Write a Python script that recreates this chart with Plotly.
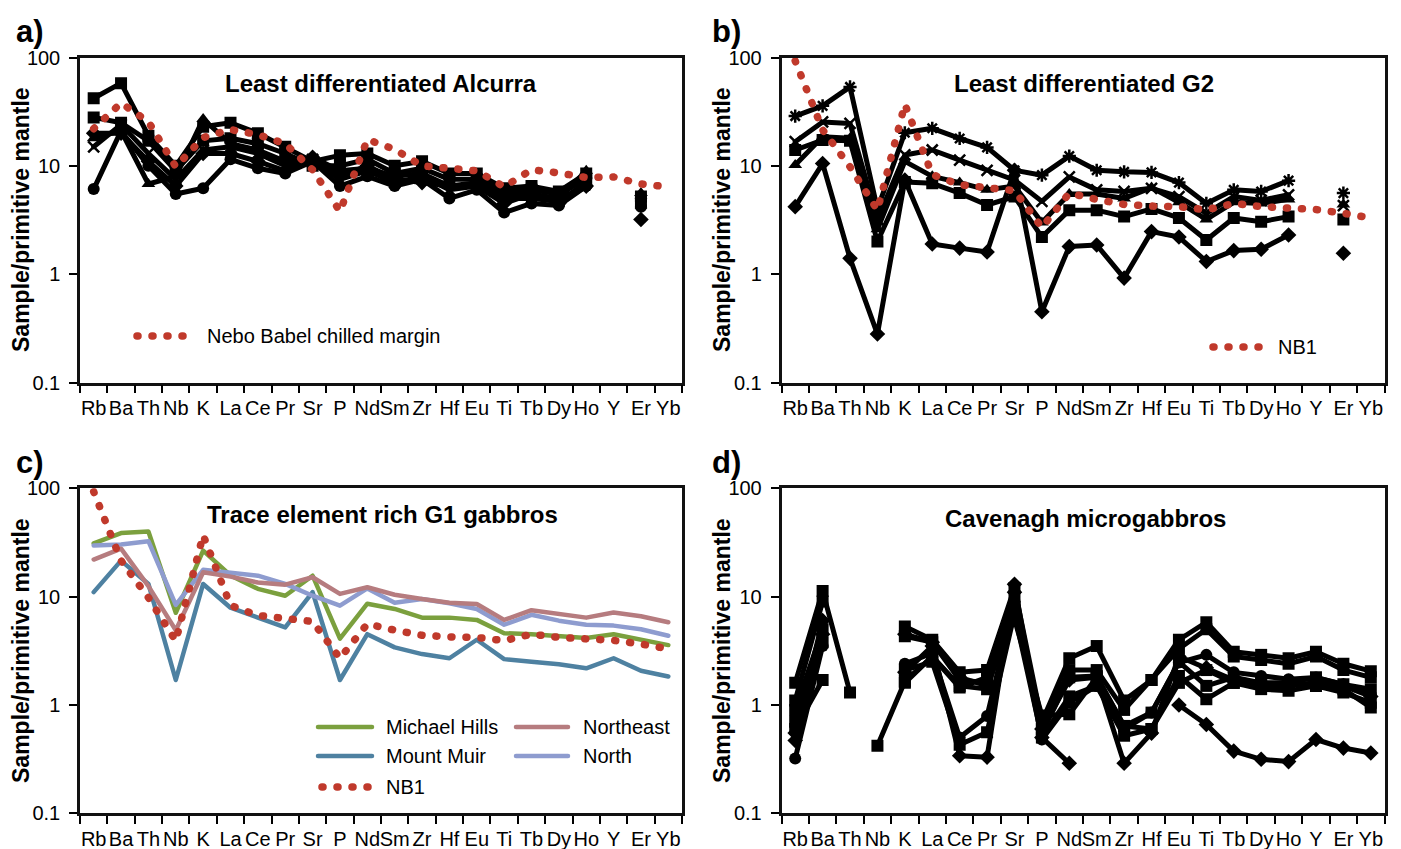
import plotly.graph_objects as go

# ---------------------------------------------------------------------------
# Primitive-mantle normalised trace element data
# ---------------------------------------------------------------------------
ELEMENTS = ["Rb", "Ba", "Th", "Nb", "K", "La", "Ce", "Pr", "Sr", "P", "Nd",
            "Sm", "Zr", "Hf", "Eu", "Ti", "Tb", "Dy", "Ho", "Y", "Er", "Yb"]
N = None

# reference compositions
NEBO_BABEL_CHILLED = [22, 38, 25.5, 9.8, 18.2, 21.6, 19.4, 16, 9.2, 3.8, 17.5,
                      14.2, 10.0, 9.3, 9.0, 6.4, 9.2, 8.6, 7.8, 7.9, 6.8, 6.4]
NB1 = [93, 21.5, 9.8, 3.9, 37, 8.3, 6.7, 6.3, 5.9, 2.7, 5.6,
       4.9, 4.4, 4.25, 4.2, 3.92, 4.5, 4.2, 4.06, 3.95, 3.65, 3.3]

# a) least differentiated Alcurra samples
ALC_SQUARE_1 = [42, 58, 19, 10, 23, 25, 20, 15, 11, 12.5, 13, 10, 11, 8.5, 8.5, 6.2, 6.5, 5.8, 8.5, N, 5.2, N]
ALC_SQUARE_2 = [28, 25, 17, 9, 17, 18, 16, 13, 10, 10, 11.5, 8.5, 9.5, 7.5, 7.5, 6.0, 6.0, 5.5, 7.5, N, 4.7, N]
ALC_TRIANGLE = [18, 21, 6.8, 8, 27, 16, 14, 11, 12, 9, 9.5, 8, 8.5, 6.5, 7, 5.5, 5.5, 5.0, 9.0, N, 5.6, N]
ALC_CROSS = [15, 24, 13, 7.5, 14, 15, 13, 10, 11.5, 7.5, 9, 7, 8, 6, 6.5, 5.0, 5.0, 4.7, 7.0, N, 4.5, N]
ALC_CIRCLE = [6.1, 21, 10, 5.5, 6.2, 11.5, 9.5, 8.5, 11, 6.5, 8, 6.5, 7.5, 5.0, 6.0, 3.7, 4.5, 4.3, 6.5, N, 4.2, N]
ALC_DIAMOND = [20, 20, 11, 6.5, 13, 13, 11, 9, 12, 8, 10, 7.5, 7, 6.5, 6.5, 4.5, 5.5, 4.5, 6.5, N, 3.2, N]

# b) least differentiated G2 samples
G2_STAR = [28.8, 35.8, 53.5, 4.0, 20.2, 22.2, 17.9, 14.8, 9.1, 8.2, 12.3, 9.1, 8.8, 8.7, 7.0, 4.5, 6.0, 5.8, 7.3, N, 5.6, N]
G2_CROSS = [16.7, 25.4, 24.6, 3.2, 12.6, 14.0, 11.3, 9.1, 7.4, 4.7, 7.9, 6.0, 5.8, 6.2, 5.2, 3.65, 5.2, 4.8, 5.4, N, 4.3, N]
G2_TRIANGLE = [10.2, 18.6, 18, 2.6, 11.0, 8.0, 7.0, 6.0, 6.5, 3.0, 5.5, 5.5, 5.0, 6.3, 4.6, 3.2, 4.6, 4.5, 4.9, N, 4.4, N]
G2_SQUARE = [14, 17.3, 17, 2.0, 7.1, 6.9, 5.6, 4.35, 5.2, 2.2, 3.9, 3.9, 3.4, 4.0, 3.3, 2.07, 3.3, 3.05, 3.4, N, 3.2, N]
G2_DIAMOND = [4.2, 10.5, 1.4, 0.28, 7.4, 1.9, 1.74, 1.6, 9.1, 0.45, 1.8, 1.86, 0.92, 2.47, 2.2, 1.31, 1.65, 1.7, 2.3, N, 1.56, N]

# c) trace element rich G1 gabbros
MICHAEL_HILLS = [31, 38.6, 40, 7.1, 26.6, 15.7, 11.8, 10.2, 15.6, 4.1, 8.6, 7.7, 6.4, 6.4, 6.1, 4.6, 4.5, 4.35, 4.15, 4.5, 4.0, 3.57]
MOUNT_MUIR = [11, 21.5, 13.1, 1.7, 13.1, 7.9, 6.4, 5.2, 11, 1.7, 4.5, 3.4, 2.95, 2.7, 4.0, 2.65, 2.5, 2.38, 2.18, 2.7, 2.07, 1.83]
NORTHEAST = [22, 27.7, 12.5, 4.9, 16.8, 15.3, 13.5, 12.9, 15.1, 10.6, 12.2, 10.4, 9.5, 8.8, 8.55, 6.1, 7.5, 6.9, 6.4, 7.15, 6.6, 5.8]
NORTH = [29.7, 30.3, 32.5, 8.4, 17.7, 16.8, 15.6, 13.1, 10.2, 8.25, 11.9, 8.8, 9.5, 8.7, 7.7, 5.5, 6.8, 6.0, 5.5, 5.4, 5.0, 4.35]

# d) Cavenagh microgabbros
CAV_1 = [1.6, 11.3, 1.3, N, 5.3, 4.0, 2.0, 2.1, 12, 0.7, 2.7, 3.5, 1.1, 1.7, 4.0, 5.8, 3.1, 2.9, 2.7, 3.1, 2.4, 2.05]
CAV_2 = [1.1, 9.0, N, N, 4.3, 3.8, 1.7, 1.6, 10, 0.6, 2.1, 2.1, 0.9, 1.7, 3.3, 5.0, 2.8, 2.6, 2.4, 2.8, 2.1, 1.8]
CAV_3 = [0.9, 5.0, N, 0.42, 1.65, 2.8, 1.5, 1.4, 8, 0.55, 1.8, 1.85, 0.64, 0.85, 2.5, 1.5, 1.8, 1.6, 1.6, 1.8, 1.55, 1.4]
CAV_4 = [0.7, 3.8, N, N, 2.1, 2.5, 0.43, 0.56, 7, 0.5, 1.2, 1.5, 0.52, 0.6, 1.85, 1.13, 1.6, 1.4, 1.35, 1.5, 1.3, 1.05]
CAV_5 = [0.32, 3.5, N, N, 2.4, 3.0, 0.5, 0.79, 9, 0.48, 1.05, 1.5, 0.6, 0.85, 2.46, 2.9, 2.0, 1.85, 1.73, 1.79, 1.55, 1.25]
CAV_6 = [0.6, 1.7, N, N, 1.6, 2.8, 1.45, 1.8, 6.2, 0.8, 0.82, 1.8, 0.64, 0.6, 1.6, 2.1, 1.6, 1.6, 1.5, 1.6, 1.4, 0.95]
CAV_7 = [0.47, 4.5, N, N, 2.0, 3.5, 0.34, 0.33, 13, 0.5, 0.29, N, N, N, 1.0, 0.66, 0.375, 0.315, 0.30, 0.48, 0.40, 0.36]
CAV_8 = [0.55, 6.0, N, N, 4.5, 3.8, 1.8, 1.5, 11, 0.6, 1.7, 1.8, 0.29, 0.55, 2.8, 2.2, 1.7, 1.5, 1.5, 1.6, 1.5, 1.2]

# ---------------------------------------------------------------------------
RED = "#c0392b"
DOTS = "1px,14px"
FONT = "Liberation Sans, Arial, sans-serif"
NARROW = "Liberation Sans Narrow, Arial Narrow, Liberation Sans, Arial, sans-serif"
W, H = 1401, 849
LINE_W = 5

# plot-area boxes in pixels: (left, right, top, bottom)
BOXES = {
    "a": (80, 682, 57.5, 382.5),
    "b": (781.5, 1384.5, 57.5, 382.5),
    "c": (80, 682, 488.3, 813.3),
    "d": (781.5, 1384.5, 488.3, 813.3),
}
AXES = {"a": ("x", "y"), "b": ("x2", "y2"), "c": ("x3", "y3"), "d": ("x4", "y4")}


def px(x):
    return x / W


def py(y):
    return 1 - y / H


fig = go.Figure()


def sample_line(panel, values, symbol, size=12):
    xa, ya = AXES[panel]
    open_sym = symbol.endswith("open")
    fig.add_trace(go.Scatter(
        x=ELEMENTS, y=values, xaxis=xa, yaxis=ya, mode="lines+markers",
        connectgaps=False, hoverinfo="skip",
        line=dict(color="black", width=LINE_W),
        marker=dict(symbol=symbol, size=size, color="black",
                    line=dict(color="black", width=2.5 if open_sym else 0)),
    ))


def colour_line(panel, values, colour):
    xa, ya = AXES[panel]
    fig.add_trace(go.Scatter(
        x=ELEMENTS, y=values, xaxis=xa, yaxis=ya, mode="lines",
        hoverinfo="skip", line=dict(color=colour, width=4.5),
    ))


def dotted_line(panel, values):
    xa, ya = AXES[panel]
    fig.add_trace(go.Scatter(
        x=ELEMENTS, y=values, xaxis=xa, yaxis=ya, mode="lines",
        hoverinfo="skip", line=dict(color=RED, width=7.5, dash=DOTS),
    ))


# a)
for vals, sym in [(ALC_DIAMOND, "diamond"), (ALC_CIRCLE, "circle"),
                  (ALC_CROSS, "x-thin-open"), (ALC_TRIANGLE, "triangle-up"),
                  (ALC_SQUARE_2, "square"), (ALC_SQUARE_1, "square")]:
    sample_line("a", vals, sym, 12 if sym != "x-thin-open" else 11)
dotted_line("a", NEBO_BABEL_CHILLED)

# b)
for vals, sym in [(G2_DIAMOND, "diamond"), (G2_SQUARE, "square"),
                  (G2_TRIANGLE, "triangle-up"), (G2_CROSS, "x-thin-open"),
                  (G2_STAR, "asterisk-open")]:
    sample_line("b", vals, sym, 12 if not sym.endswith("open") else 11)
dotted_line("b", NB1)

# c)
colour_line("c", MOUNT_MUIR, "#4e81a1")
colour_line("c", MICHAEL_HILLS, "#7ba03e")
colour_line("c", NORTH, "#8e9ccf")
colour_line("c", NORTHEAST, "#b67c7f")
dotted_line("c", NB1)

# d)
for vals, sym in [(CAV_7, "diamond"), (CAV_8, "diamond"), (CAV_6, "square"),
                  (CAV_5, "circle"), (CAV_4, "square"), (CAV_3, "square"),
                  (CAV_2, "square"), (CAV_1, "square")]:
    sample_line("d", vals, sym, 12)

# ---------------------------------------------------------------------------
layout = dict(
    width=W, height=H, margin=dict(l=0, r=0, t=0, b=0, autoexpand=False),
    paper_bgcolor="white", plot_bgcolor="white", showlegend=False,
    font=dict(family=FONT, color="black"),
)
for i, p in enumerate("abcd"):
    l, r, t, b = BOXES[p]
    sfx = "" if i == 0 else str(i + 1)
    layout["xaxis" + sfx] = dict(
        domain=[px(l), px(r)], anchor="y" + sfx, type="category",
        categoryorder="array", categoryarray=ELEMENTS, range=[-0.5, 21.5],
        tickson="boundaries", ticks="outside", ticklen=8, tickwidth=2,
        tickcolor="black", showline=True, linewidth=2.5, linecolor="#111",
        mirror=True, showgrid=False, zeroline=False, ticklabelstandoff=6,
        tickangle=0, automargin=False,
        tickfont=dict(family=NARROW, size=20, color="black"),
    )
    layout["yaxis" + sfx] = dict(
        domain=[py(b), py(t)], anchor="x" + sfx, type="log", range=[-1, 2],
        tickvals=[0.1, 1, 10, 100], ticktext=["0.1", "1", "10", "100"],
        ticks="outside", ticklen=8, tickwidth=2, tickcolor="black",
        showline=True, linewidth=2.5, linecolor="#111", mirror=True,
        showgrid=False, zeroline=False, ticklabelstandoff=5, automargin=False,
        tickfont=dict(family=FONT, size=20, color="black"),
    )
fig.update_layout(**layout)

annotations = []
shapes = []


def text(x, y, s, size, bold=False, anchor="left", angle=0):
    annotations.append(dict(
        x=px(x), y=py(y), xref="paper", yref="paper", text=s, showarrow=False,
        xanchor=anchor, yanchor="middle", textangle=angle,
        font=dict(family=FONT, size=size, color="black",
                  weight="bold" if bold else "normal"),
    ))


# panel letters, titles and axis titles
for p, (x, y) in {"a)": (14, 31), "b)": (710, 31), "c)": (14, 462), "d)": (710, 462)}.items():
    text(x, y, p, 31, bold=True)
text(381, 83, "Least differentiated Alcurra", 24, bold=True, anchor="center")
text(1084, 83, "Least differentiated G2", 24, bold=True, anchor="center")
text(382, 514, "Trace element rich G1 gabbros", 24, bold=True, anchor="center")
text(1085, 518, "Cavenagh microgabbros", 24, bold=True, anchor="center")
for x, y in [(21, 220), (722, 220), (21, 651), (722, 651)]:
    text(x, y, "Sample/primitive mantle", 23, bold=True, anchor="center", angle=-90)


# legend keys
def key(x0, x1, y, colour, dotted=False):
    shapes.append(dict(
        type="line", xref="paper", yref="paper",
        x0=px(x0), x1=px(x1), y0=py(y), y1=py(y),
        line=dict(color=colour, width=7.5 if dotted else 4.5,
                  dash=DOTS if dotted else "solid"),
    ))


key(137, 186, 336, RED, dotted=True)
text(205, 336, "Nebo Babel chilled margin", 20)
key(1213, 1261, 347, RED, dotted=True)
text(1276, 347, "NB1", 20)
key(318, 372, 727, "#7ba03e")
text(384, 727, "Michael Hills", 20)
key(516, 568, 727, "#b67c7f")
text(581, 727, "Northeast", 20)
key(318, 372, 756, "#4e81a1")
text(384, 756, "Mount Muir", 20)
key(516, 568, 756, "#8e9ccf")
text(581, 756, "North", 20)
key(322, 370, 787, RED, dotted=True)
text(384, 787, "NB1", 20)

fig.update_layout(annotations=annotations, shapes=shapes)

# round dot ends and rounded joins for all drawn lines
POST = (
    "var s=document.createElement('style');"
    "s.innerHTML='.js-line,.shapelayer path{stroke-linecap:round;stroke-linejoin:round}';"
    "document.head.appendChild(s);"
)
fig.write_html("out.html", post_script=POST)
